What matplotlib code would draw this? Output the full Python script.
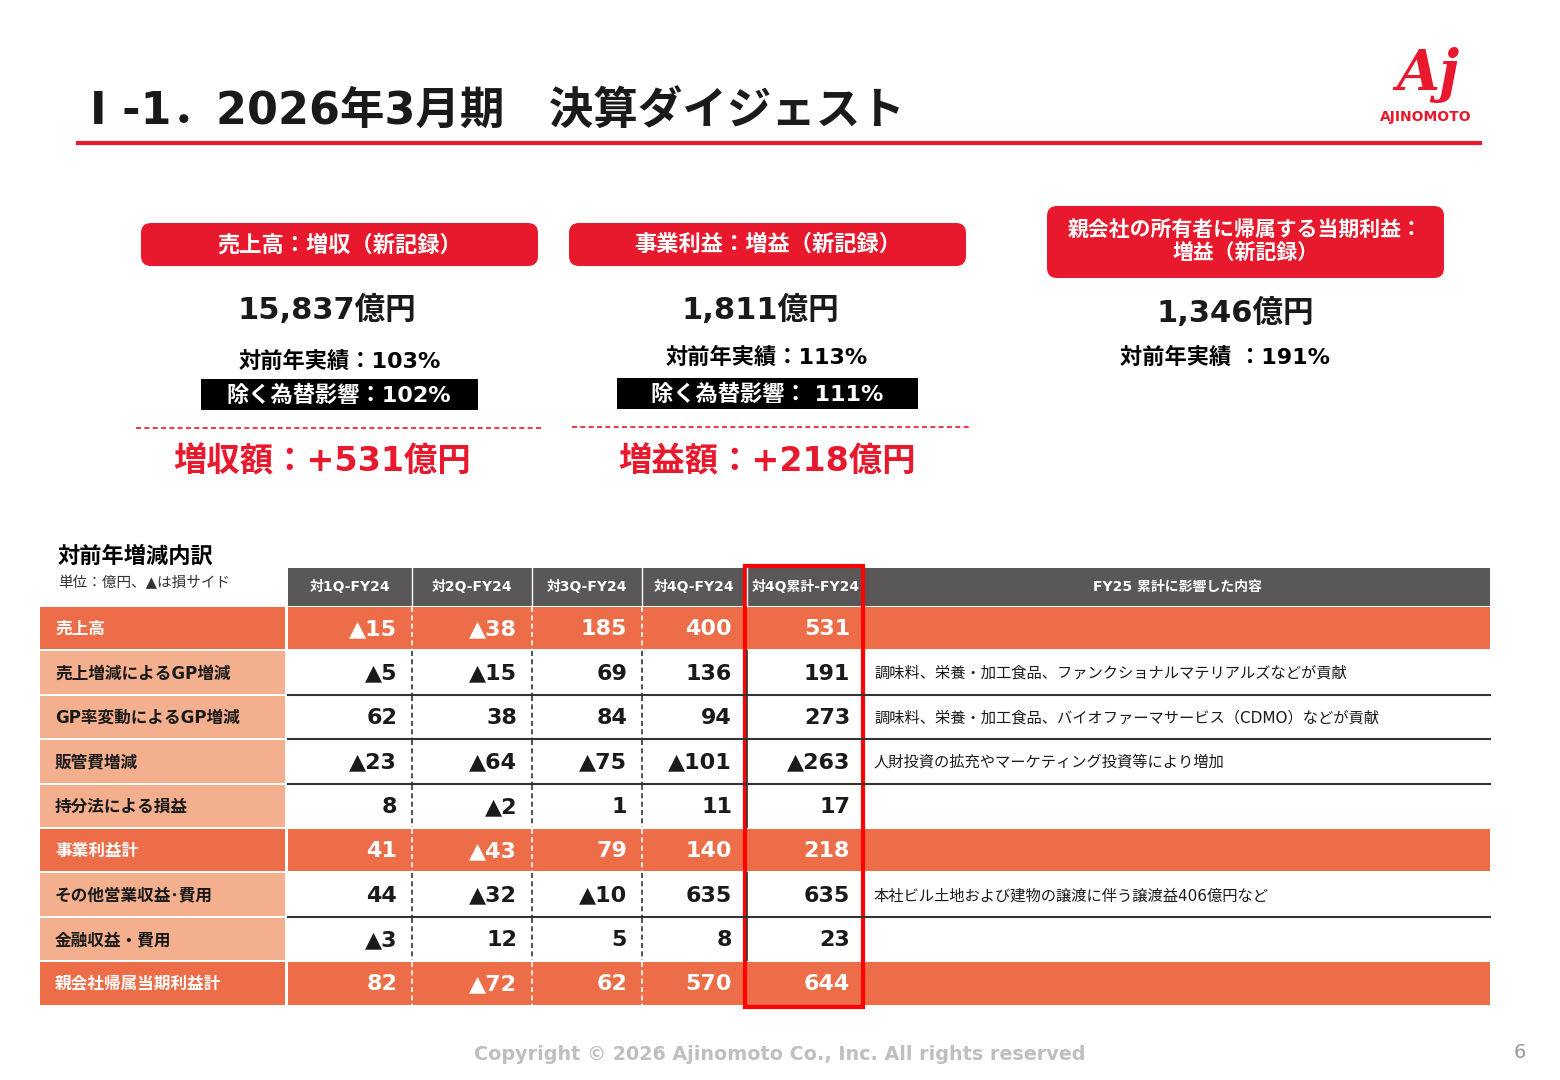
import matplotlib.pyplot as plt
from matplotlib.patches import Rectangle, FancyBboxPatch

plt.rcParams['font.family'] = ['DejaVu Sans', 'Noto Sans CJK JP']

# ---- data ----
col_labels = ['対1Q-FY24', '対2Q-FY24', '対3Q-FY24', '対4Q-FY24', '対4Q累計-FY24']
row_labels = ['売上高', '売上増減によるGP増減', 'GP率変動によるGP増減', '販管費増減',
              '持分法による損益', '事業利益計', 'その他営業収益･費用', '金融収益・費用',
              '親会社帰属当期利益計']
values = [
    [-15, -38, 185, 400, 531],
    [-5, -15, 69, 136, 191],
    [62, 38, 84, 94, 273],
    [-23, -64, -75, -101, -263],
    [8, -2, 1, 11, 17],
    [41, -43, 79, 140, 218],
    [44, -32, -10, 635, 635],
    [-3, 12, 5, 8, 23],
    [82, -72, 62, 570, 644],
]
comments = ['', '調味料、栄養・加工食品、ファンクショナルマテリアルズなどが貢献',
            '調味料、栄養・加工食品、バイオファーマサービス（CDMO）などが貢献',
            '人財投資の拡充やマーケティング投資等により増加', '', '',
            '本社ビル土地および建物の譲渡に伴う譲渡益406億円など', '', '']
total_rows = [0, 5, 8]

RED = '#E8192C'
DARK = '#EC6D48'
LIGHT = '#F4B08E'
HEAD = '#595757'

fig = plt.figure(figsize=(15.6, 10.8), dpi=100)
ax = fig.add_axes([0, 0, 1, 1])
ax.set_xlim(0, 1560)
ax.set_ylim(1080, 0)
ax.axis('off')

# ---- title ----
ax.text(90, 112, 'Ⅰ -1．2026年3月期　決算ダイジェスト', fontsize=32, fontweight='bold',
        va='center', ha='left', color='#1a1a1a')
ax.plot([78, 1480], [143, 143], color=RED, lw=3)
ax.text(1428, 75, 'Aj', fontsize=40, fontweight='bold', style='italic', color=RED,
        ha='center', va='center', family='DejaVu Serif')
ax.text(1426, 117, 'AJINOMOTO', fontsize=10, fontweight='bold', color=RED, ha='center', va='center')

# ---- KPI boxes ----
def redbox(x0, y0, x1, y1, txt, fs=15):
    ax.add_patch(FancyBboxPatch((x0, y0), x1 - x0, y1 - y0, boxstyle='round,pad=0,rounding_size=10',
                                fc=RED, ec='none'))
    ax.text((x0 + x1) / 2, (y0 + y1) / 2, txt, color='white', fontsize=fs, fontweight='bold',
            ha='center', va='center', linespacing=1.2)

redbox(141, 223, 538, 266, '売上高：増収（新記録）', 16)
redbox(569, 223, 966, 266, '事業利益：増益（新記録）', 16)
redbox(1047, 206, 1444, 278, '親会社の所有者に帰属する当期利益：\n増益（新記録）', 15)

for cx, big in [(327, '15,837億円'), (760, '1,811億円'), (1235, '1,346億円')]:
    ax.text(cx, 310 if cx < 1000 else 313, big, fontsize=22, fontweight='bold', ha='center', va='center', color='#1a1a1a')
ax.text(340, 361, '対前年実績：103%', fontsize=16, fontweight='bold', ha='center', va='center')
ax.text(767, 357, '対前年実績：113%', fontsize=16, fontweight='bold', ha='center', va='center')
ax.text(1225, 357, '対前年実績 ：191%', fontsize=16, fontweight='bold', ha='center', va='center')
ax.add_patch(Rectangle((201, 379), 277, 31, fc='black'))
ax.text(339, 395, '除く為替影響：102%', fontsize=16, fontweight='bold', color='white', ha='center', va='center')
ax.add_patch(Rectangle((617, 378), 301, 31, fc='black'))
ax.text(767, 394, '除く為替影響： 111%', fontsize=16, fontweight='bold', color='white', ha='center', va='center')
ax.plot([136, 543], [428, 428], color=RED, lw=1.2, ls=(0, (3, 2)))
ax.plot([572, 970], [427, 427], color=RED, lw=1.2, ls=(0, (3, 2)))
ax.text(322, 462, '増収額：+531億円', fontsize=24, fontweight='bold', color=RED, ha='center', va='center')
ax.text(767, 462, '増益額：+218億円', fontsize=24, fontweight='bold', color=RED, ha='center', va='center')

# ---- table ----
ax.text(58, 556, '対前年増減内訳', fontsize=16, fontweight='bold', ha='left', va='center')
ax.text(58, 583, '単位：億円、▲は損サイド', fontsize=10.5, ha='left', va='center', color='#333333')

col_x = [288, 412, 532, 642, 747, 865]
table_right = 1490
head_top, head_bot = 568, 606
row_h = 44.4
ax.add_patch(Rectangle((288, head_top), table_right - 288, head_bot - head_top, fc=HEAD, ec='none'))
for i, lab in enumerate(col_labels):
    ax.text((col_x[i] + col_x[i + 1]) / 2, (head_top + head_bot) / 2, lab, color='white',
            fontsize=10, fontweight='bold', ha='center', va='center')
ax.text((865 + table_right) / 2, (head_top + head_bot) / 2, 'FY25 累計に影響した内容', color='white',
        fontsize=10, fontweight='bold', ha='center', va='center')
for x in col_x[1:-1]:
    ax.plot([x, x], [head_top, head_bot], color='white', lw=1)

def fmt(v):
    return f'▲{abs(v)}' if v < 0 else str(v)

for r, lab in enumerate(row_labels):
    y0 = head_bot + 1 + r * row_h
    yc = y0 + row_h / 2
    tot = r in total_rows
    ax.add_patch(Rectangle((40, y0), 245, row_h - 2, fc=DARK if tot else LIGHT, ec='none'))
    if tot:
        ax.add_patch(Rectangle((288, y0), table_right - 288, row_h - 2, fc=DARK, ec='none'))
    ax.text(55, yc, lab, fontsize=12, fontweight='bold', ha='left', va='center',
            color='white' if tot else '#1a1a1a')
    for c, v in enumerate(values[r]):
        ax.text(col_x[c + 1] - 15, yc, fmt(v), fontsize=16, fontweight='bold', ha='right', va='center',
                color='white' if tot else '#1a1a1a')
    if comments[r]:
        ax.text(874, yc, comments[r], fontsize=11, ha='left', va='center', color='#1a1a1a')
    for x in col_x[1:4]:
        ax.plot([x, x], [y0, y0 + row_h - 2], color='white' if tot else '#333333', lw=1.2, ls=(0, (3, 2)))
    if not tot and r + 1 not in total_rows:
        ax.plot([288, table_right], [y0 + row_h - 1, y0 + row_h - 1], color='#333333', lw=1.5)
    if not tot:
        ax.plot([747, 747], [y0, y0 + row_h - 2], color='#333333', lw=1.2)

# highlighted cumulative column
ax.add_patch(Rectangle((745, 566), 118, 441, fill=False, ec='#FF0000', lw=3))

ax.text(780, 1054, 'Copyright © 2026 Ajinomoto Co., Inc. All rights reserved', fontsize=13.8,
        fontweight='bold', color='#BFBFBF', ha='center', va='center')
ax.text(1520, 1053, '6', fontsize=14, color='#999999', ha='center', va='center')

fig.savefig('out.png', dpi=100)
